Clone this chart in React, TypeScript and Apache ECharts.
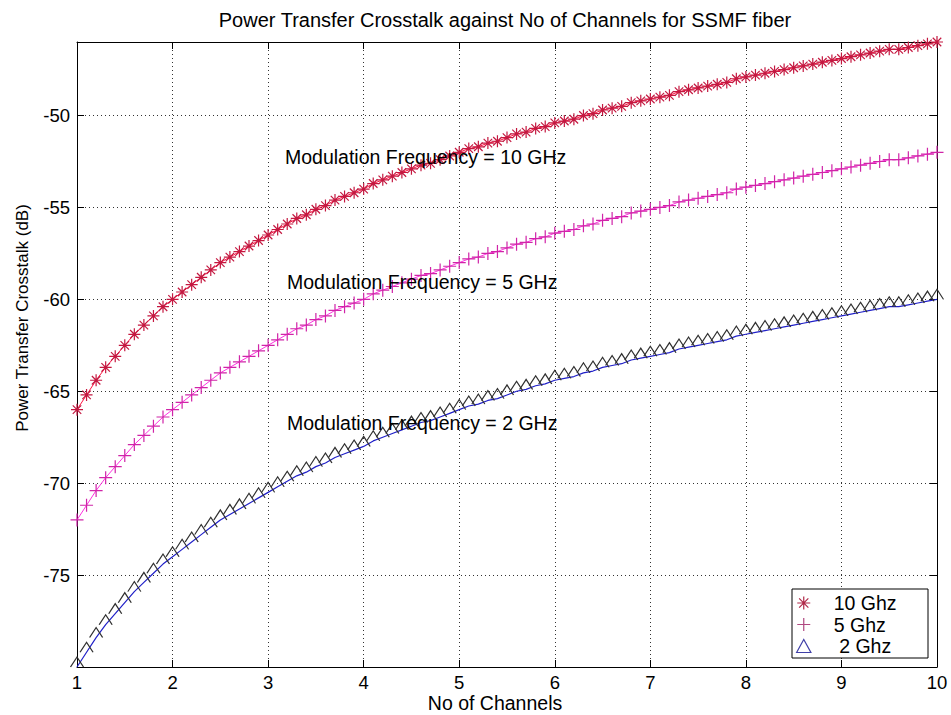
import React, { useEffect, useRef } from 'react';
import * as echarts from 'echarts';

// Number of channels (x values)
const channels = [
  1.0, 1.1, 1.2, 1.3, 1.4, 1.5, 1.6, 1.7, 1.8, 1.9,
  2.0, 2.1, 2.2, 2.3, 2.4, 2.5, 2.6, 2.7, 2.8, 2.9,
  3.0, 3.1, 3.2, 3.3, 3.4, 3.5, 3.6, 3.7, 3.8, 3.9,
  4.0, 4.1, 4.2, 4.3, 4.4, 4.5, 4.6, 4.7, 4.8, 4.9,
  5.0, 5.1, 5.2, 5.3, 5.4, 5.5, 5.6, 5.7, 5.8, 5.9,
  6.0, 6.1, 6.2, 6.3, 6.4, 6.5, 6.6, 6.7, 6.8, 6.9,
  7.0, 7.1, 7.2, 7.3, 7.4, 7.5, 7.6, 7.7, 7.8, 7.9,
  8.0, 8.1, 8.2, 8.3, 8.4, 8.5, 8.6, 8.7, 8.8, 8.9,
  9.0, 9.1, 9.2, 9.3, 9.4, 9.5, 9.6, 9.7, 9.8, 9.9,
  10.0,
];

// Power transfer crosstalk (dB), modulation frequency 10 GHz
const crosstalk10GHz = [
  -66.0, -65.2, -64.4, -63.7, -63.1, -62.5, -61.9, -61.4, -60.9, -60.4,
  -60.0, -59.6, -59.2, -58.8, -58.4, -58.0, -57.7, -57.4, -57.1, -56.8,
  -56.5, -56.2, -55.9, -55.6, -55.4, -55.1, -54.9, -54.6, -54.4, -54.2,
  -54.0, -53.7, -53.5, -53.3, -53.1, -52.9, -52.7, -52.6, -52.4, -52.2,
  -52.0, -51.8, -51.7, -51.5, -51.4, -51.2, -51.0, -50.9, -50.7, -50.6,
  -50.4, -50.3, -50.2, -50.0, -49.9, -49.7, -49.6, -49.5, -49.3, -49.2,
  -49.1, -49.0, -48.9, -48.7, -48.6, -48.5, -48.4, -48.3, -48.2, -48.0,
  -47.9, -47.8, -47.7, -47.6, -47.5, -47.4, -47.3, -47.2, -47.1, -47.0,
  -46.9, -46.8, -46.7, -46.6, -46.5, -46.4, -46.4, -46.3, -46.2, -46.1,
  -46.0,
];

// Power transfer crosstalk (dB), modulation frequency 5 GHz
const crosstalk5GHz = [
  -72.0, -71.2, -70.4, -69.7, -69.1, -68.5, -67.9, -67.4, -66.9, -66.4,
  -66.0, -65.6, -65.2, -64.8, -64.4, -64.0, -63.7, -63.4, -63.1, -62.8,
  -62.5, -62.2, -61.9, -61.6, -61.4, -61.1, -60.9, -60.6, -60.4, -60.2,
  -60.0, -59.7, -59.5, -59.3, -59.1, -58.9, -58.7, -58.6, -58.4, -58.2,
  -58.0, -57.8, -57.7, -57.5, -57.4, -57.2, -57.0, -56.9, -56.7, -56.6,
  -56.4, -56.3, -56.2, -56.0, -55.9, -55.7, -55.6, -55.5, -55.3, -55.2,
  -55.1, -55.0, -54.9, -54.7, -54.6, -54.5, -54.4, -54.3, -54.2, -54.0,
  -53.9, -53.8, -53.7, -53.6, -53.5, -53.4, -53.3, -53.2, -53.1, -53.0,
  -52.9, -52.8, -52.7, -52.6, -52.5, -52.4, -52.4, -52.3, -52.2, -52.1,
  -52.0,
];

// Power transfer crosstalk (dB), modulation frequency 2 GHz
const crosstalk2GHz = [
  -80.0, -79.2, -78.4, -77.7, -77.1, -76.5, -75.9, -75.4, -74.9, -74.4,
  -74.0, -73.6, -73.2, -72.8, -72.4, -72.0, -71.7, -71.4, -71.1, -70.8,
  -70.5, -70.2, -69.9, -69.6, -69.4, -69.1, -68.9, -68.6, -68.4, -68.2,
  -68.0, -67.7, -67.5, -67.3, -67.1, -66.9, -66.7, -66.6, -66.4, -66.2,
  -66.0, -65.8, -65.7, -65.5, -65.4, -65.2, -65.0, -64.9, -64.7, -64.6,
  -64.4, -64.3, -64.2, -64.0, -63.9, -63.7, -63.6, -63.5, -63.3, -63.2,
  -63.1, -63.0, -62.9, -62.7, -62.6, -62.5, -62.4, -62.3, -62.2, -62.0,
  -61.9, -61.8, -61.7, -61.6, -61.5, -61.4, -61.3, -61.2, -61.1, -61.0,
  -60.9, -60.8, -60.7, -60.6, -60.5, -60.4, -60.4, -60.3, -60.2, -60.1,
  -60.0,
];

const seriesNames = ['10 Ghz', '5 Ghz', ' 2 Ghz'];
const annotations = [
  'Modulation Frequency = 10 GHz',
  'Modulation Frequency = 5 GHz',
  'Modulation Frequency = 2 GHz',
];
const titleText = 'Power Transfer Crosstalk against No of Channels for SSMF fiber';
const xAxisName = 'No of Channels';
const yAxisName = 'Power Transfer Crosstalk (dB)';

export default function App() {
  const ref = useRef<HTMLDivElement>(null);

  useEffect(() => {
    if (!ref.current) return;
    const chart = echarts.init(ref.current, undefined, { renderer: 'svg' });
    const font = '"Liberation Sans", Arial, Helvetica, sans-serif';
    const toPairs = (ys: number[]) => channels.map((x, i) => [x, ys[i]]);

    const starPath = 'path://M0,5L10,5M5,0L5,10M1.46,1.46L8.54,8.54M8.54,1.46L1.46,8.54';
    const plusPath = 'path://M0,5L10,5M5,0L5,10';
    const triOpen = 'path://M0,10L5.5,0L11,10';
    const triClosed = 'path://M0,10L5.5,0L11,10Z';
    const clear = 'rgba(0,0,0,0)';

    const axisCommonX = {
      type: 'value' as const,
      min: 1,
      max: 10,
      interval: 1,
    };
    const axisCommonY = {
      type: 'value' as const,
      min: -80,
      max: -46,
      interval: 5,
    };
    const axisLine = { show: true, onZero: false, lineStyle: { color: '#000', width: 1 } };
    const tick = { show: true, inside: true, length: 7, lineStyle: { color: '#000', width: 1 } };
    const grid = { show: true, lineStyle: { color: '#333', type: [1, 3] as any, width: 1 } };

    const textEl = (text: string, x: number, y: number, size: number, align: string, rotation = 0) => ({
      type: 'text',
      z: 10,
      x,
      y,
      rotation,
      style: {
        text,
        fontSize: size,
        fontFamily: font,
        fill: '#000',
        align,
        verticalAlign: 'middle',
        textAlign: align,
        textVerticalAlign: 'middle',
      },
    });

    chart.setOption({
      animation: false,
      backgroundColor: '#fff',
      title: {
        text: titleText,
        left: 505,
        top: 10,
        padding: 0,
        textAlign: 'center',
        textStyle: { fontSize: 20, fontWeight: 'normal', fontFamily: font, color: '#000' },
      },
      grid: { left: 77, right: 14, top: 42, bottom: 48, containLabel: false },
      xAxis: [
        {
          ...axisCommonX,
          position: 'bottom',
          axisLine,
          axisTick: tick,
          axisLabel: { color: '#000', fontSize: 18.5, fontFamily: font, margin: 6 },
          splitLine: grid,
        },
        {
          ...axisCommonX,
          position: 'top',
          axisLine,
          axisTick: tick,
          axisLabel: { show: false },
          splitLine: { show: false },
        },
      ],
      yAxis: [
        {
          ...axisCommonY,
          position: 'left',
          axisLine,
          axisTick: tick,
          axisLabel: {
            color: '#000',
            fontSize: 18.5,
            fontFamily: font,
            margin: 7,
            showMinLabel: false,
            showMaxLabel: false,
          },
          splitLine: grid,
        },
        {
          ...axisCommonY,
          position: 'right',
          axisLine,
          axisTick: tick,
          axisLabel: { show: false },
          splitLine: { show: false },
        },
      ],
      legend: {
        orient: 'vertical',
        left: 796,
        top: 593,
        padding: 0,
        itemWidth: 50,
        itemHeight: 13,
        itemGap: 1.5,
        selectedMode: false,
        z: 6,
        textStyle: { fontSize: 19.5, fontFamily: font, color: '#000', lineHeight: 18 },
        data: [
          {
            name: seriesNames[0],
            icon: starPath,
            itemStyle: { color: clear, borderColor: '#b02848', borderWidth: 1.2 },
          },
          {
            name: seriesNames[1],
            icon: plusPath,
            itemStyle: { color: clear, borderColor: '#b04880', borderWidth: 1.2 },
          },
          {
            name: seriesNames[2],
            icon: triClosed,
            itemStyle: { color: clear, borderColor: '#4040a8', borderWidth: 1.2 },
          },
        ],
      },
      graphic: [
        {
          type: 'rect',
          z: 5,
          shape: { x: 792, y: 589, width: 136, height: 69 },
          style: { fill: '#fff', stroke: '#000', lineWidth: 1 },
        },
        textEl(annotations[0], 285, 157, 19.5, 'left'),
        textEl(annotations[1], 287, 282, 19.5, 'left'),
        textEl(annotations[2], 287, 423, 19.5, 'left'),
        textEl(xAxisName, 495, 703, 19.5, 'center'),
        textEl(yAxisName, 22, 318, 17, 'center', Math.PI / 2),
      ],
      series: [
        {
          name: seriesNames[0],
          type: 'line',
          data: toPairs(crosstalk10GHz),
          symbol: starPath,
          symbolSize: 12,
          showAllSymbol: true,
          clip: false,
          z: 3,
          itemStyle: { color: clear, borderColor: '#c41840', borderWidth: 1.2 },
          lineStyle: { color: '#ff1040', width: 1 },
          emphasis: { disabled: true },
        },
        {
          name: seriesNames[1],
          type: 'line',
          data: toPairs(crosstalk5GHz),
          symbol: plusPath,
          symbolSize: 13,
          showAllSymbol: true,
          clip: false,
          z: 3,
          itemStyle: { color: clear, borderColor: '#d024a8', borderWidth: 1.2 },
          lineStyle: { color: '#ff30e0', width: 1 },
          emphasis: { disabled: true },
        },
        {
          name: seriesNames[2],
          type: 'line',
          data: toPairs(crosstalk2GHz),
          symbol: triOpen,
          symbolSize: [13, 10],
          symbolOffset: [0, -5],
          showAllSymbol: true,
          clip: false,
          z: 3,
          itemStyle: { color: clear, borderColor: '#303030', borderWidth: 1.1 },
          lineStyle: { color: '#2020c8', width: 1.2 },
          emphasis: { disabled: true },
        },
      ],
    });

    return () => {
      chart.dispose();
    };
  }, []);

  return (
    <div
      ref={ref}
      style={{ position: 'fixed', left: 0, top: 0, width: 951, height: 715, background: '#fff' }}
    />
  );
}
